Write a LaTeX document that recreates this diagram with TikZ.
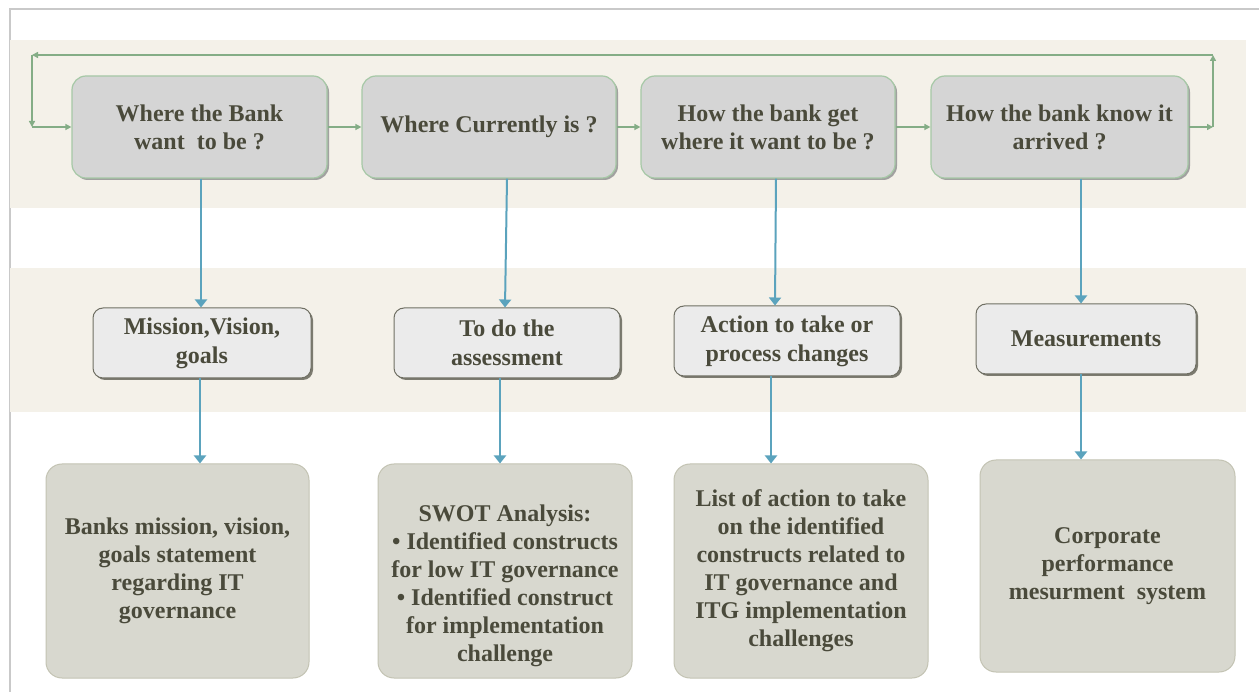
\documentclass[tikz,border=0pt]{standalone}
\usepackage{fontspec}
\setmainfont{Liberation Serif}
\usetikzlibrary{positioning, calc, arrows.meta, shadows}
\definecolor{Band}{HTML}{F4F1E9}
\definecolor{Frame}{HTML}{C9C9C9}
\definecolor{Ink}{HTML}{4A4A3B}
\definecolor{TopFill}{HTML}{D5D5D5}
\definecolor{TopEdge}{HTML}{A6C8A6}
\definecolor{MidFill}{HTML}{EBEBEB}
\definecolor{MidEdge}{HTML}{6F6F63}
\definecolor{LowFill}{HTML}{D8D8CF}
\definecolor{LowEdge}{HTML}{C3C3B3}
\definecolor{Loop}{HTML}{84AD86}
\definecolor{Down}{HTML}{5BA3BD}
\tikzset{
    qtext/.style={font=\fontsize{24}{28}\selectfont\bfseries, text=Ink, align=center, inner sep=0pt},
    topbox/.style={qtext, rectangle, rounded corners=14pt, fill=TopFill, draw=TopEdge, line width=1.2pt, minimum height=102pt,
        drop shadow={shadow xshift=2pt, shadow yshift=-2pt, fill=black!40, opacity=0.9}},
    midbox/.style={qtext, font=\fontsize{24}{29}\selectfont\bfseries, rectangle, rounded corners=10pt, fill=MidFill, draw=MidEdge, line width=1pt, minimum height=70pt,
        drop shadow={shadow xshift=2pt, shadow yshift=-2pt, fill=MidEdge, opacity=0.9}},
    lowbox/.style={qtext, rectangle, rounded corners=16pt, fill=LowFill, draw=LowEdge, line width=1pt, minimum height=214pt},
    loop/.style={-{Triangle[width=6pt, length=6pt]}, Loop, line width=1.5pt},
    down/.style={-{Triangle[width=12pt, length=8pt]}, Down, line width=2pt},
}
\begin{document}
\begin{tikzpicture}[x=1pt, y=-1pt]
    % page and bands
    \fill[white] (0,0) rectangle (1259,692);
    \useasboundingbox (0,0) rectangle (1259,692);
    \draw[Frame, line width=2pt] (10,692) -- (10,9) -- (1259,9);
    \fill[Band] (10,40) rectangle (1246,208);
    \fill[Band] (10,268) rectangle (1246,412);

    % questions
    \node[topbox, minimum width=255pt] (b1) at (199.5,127) {Where the Bank\\want\ \ to be ?};
    \node[topbox, minimum width=254pt] (b2) at (489,127) {Where Currently is ?};
    \node[topbox, minimum width=254pt] (b3) at (768,127) {How the bank get\\where it want to be ?};
    \node[topbox, minimum width=257pt] (b4) at (1059.5,127) {How the bank know it\\arrived ?};

    % loop
    \coordinate (loopR) at (1213,127);
    \coordinate (loopRT) at (1213,55);
    \coordinate (loopLT) at (32,55);
    \coordinate (loopL) at (32,127);
    \draw[loop] (b1) -- (b2);
    \draw[loop] (b2) -- (b3);
    \draw[loop] (b3) -- (b4);
    \draw[loop] (b4) -- (loopR);
    \draw[loop] (loopR) -- (loopRT);
    \draw[loop] (loopRT) -- (loopLT);
    \draw[loop] (loopLT) -- (loopL);
    \draw[loop] (loopL) -- (b1);

    % steps
    \node[midbox, minimum width=218pt] (m1) at (202,343) {Mission,Vision,\\goals};
    \node[midbox, minimum width=226pt] (m2) at (507,343) {To do the\\assessment};
    \node[midbox, minimum width=226pt] (m3) at (787,341) {Action to take or\\process changes};
    \node[midbox, minimum width=220pt] (m4) at (1086,339) {Measurements};

    % outcomes
    \node[lowbox, minimum width=263pt] (l1) at (177.5,571) {Banks mission, vision,\\goals statement\\regarding IT\\governance};
    \node[lowbox, minimum width=254pt] (l2) at (505,571) {};
    \node[qtext] (l2txt) at (505,586) {SWOT Analysis:\\\textbullet\ Identified constructs\\for low IT governance\\\textbullet\ Identified construct\\for implementation\\challenge};
    \node[lowbox, minimum width=254pt] (l3) at (801,571) {List of action to take\\on the identified\\constructs related to\\IT governance and\\ITG implementation\\challenges};
    \node[lowbox, minimum width=255pt, minimum height=212pt] (l4) at (1107.5,566) {Corporate\\performance\\mesurment\ \ system};

    % down arrows
    \draw[down] ([xshift=-1pt]b1.south -| m1.north) -- ([xshift=-1pt]m1.north);
    \draw[down] (b2.south -| m2.north) -- ([xshift=-2pt]m2.north);
    \draw[down] ([xshift=-11pt]b3.south -| m3.north) -- ([xshift=-12pt]m3.north);
    \draw[down] ([xshift=-5pt]b4.south -| m4.north) -- ([xshift=-5pt]m4.north);
    \draw[down] ([xshift=-2pt]m1.south) -- ([xshift=-2pt]m1.south |- l1.north);
    \draw[down] ([xshift=-7pt]m2.south) -- ([xshift=-7pt]m2.south |- l2.north);
    \draw[down] ([xshift=-16pt]m3.south) -- ([xshift=-16pt]m3.south |- l3.north);
    \draw[down] ([xshift=-5pt]m4.south) -- ([xshift=-5pt]m4.south |- l4.north);
\end{tikzpicture}
\end{document}
